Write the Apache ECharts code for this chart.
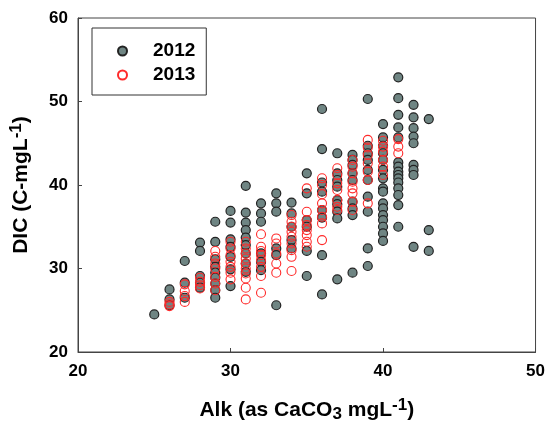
<!DOCTYPE html>
<html>
<head>
<meta charset="utf-8">
<script src="https://cdn.jsdelivr.net/npm/echarts@6/dist/echarts.min.js"></script>
<style>
html,body{margin:0;padding:0;background:#fff;}
#c{width:548px;height:428px;}
</style>
</head>
<body>
<div id="c"></div>
<script>
// Alkalinity levels (x) and DIC readings at each level
const alk2012 = [25,26,27,28,29,30,31,32,33,34,35,36,37,38,39,40,41,42,43];
const dic2012 = [
  [24.5],
  [27.5,26.3,25.6],
  [30.9,28.3,26.5],
  [33.1,32.1,29.1,28.3,27.7],
  [35.6,33.2,31.1,30.2,29.5,28.9,28.2,27.4,26.5],
  [36.9,35.5,33.5,32.6,31.4,29.9,27.9],
  [39.9,36.7,35.5,34.6,33.7,32.8,31.8,30.6,29.6],
  [37.8,36.6,35.6,31.8,30.8,29.8],
  [39.0,37.8,36.8,32.4,31.6,25.6],
  [37.9,36.6,35.0,33.4,32.4],
  [41.4,39.0,35.8,35.0,32.1,29.1],
  [49.1,44.3,40.3,39.2,37.0,36.1,31.6,26.9],
  [43.8,41.4,40.6,39.8,38.2,37.7,36.8,36.0,28.7],
  [43.6,43.0,42.4,41.4,40.6,38.0,37.2,36.4,29.5],
  [50.3,44.7,43.8,43.0,41.8,40.6,38.6,36.8,32.4,30.3],
  [47.3,45.7,44.7,43.8,43.0,41.8,40.8,39.6,39.2,37.8,37.2,36.4,35.8,35.0,34.2,33.3],
  [52.9,50.4,48.4,46.9,45.7,42.7,42.2,41.6,41.2,40.8,40.3,39.6,38.8,37.6,35.0],
  [49.6,48.1,46.8,45.8,45.0,42.4,41.8,41.2,32.6],
  [47.9,34.6,32.1]
];
const alk2013 = [26,27,28,29,30,31,32,33,34,35,36,37,38,39,40,41];
const dic2013 = [
  [26.0,25.7,25.5],
  [28.1,27.3,26.7,26.0],
  [28.9,28.4,28.0,27.6],
  [32.1,31.4,30.6,30.0,29.0,28.2,27.4],
  [33.2,32.4,31.6,30.8,30.2,29.5,28.7],
  [33.2,32.4,31.8,31.2,30.6,30.0,29.4,28.8,27.7,26.3],
  [34.1,32.6,32.1,31.6,31.0,30.2,29.1,27.1],
  [33.6,33.0,31.8,30.6,29.5],
  [36.4,35.6,35.0,34.4,33.8,33.0,32.2,31.4,29.7],
  [39.6,36.8,35.8,35.2,34.6,34.0,33.2,32.6],
  [40.8,40.0,38.9,37.8,37.0,36.2,35.4,33.4],
  [42.0,41.2,40.2,39.4,38.2,37.4,37.0],
  [43.0,42.2,41.4,40.4,39.6,39.0,38.0,37.0],
  [45.4,44.5,43.6,42.6,41.6,40.6,37.8],
  [45.3,44.6,44.0,43.0,42.2,41.2],
  [45.5,44.6,43.8]
];
const seriesNames = ['2012','2013'];
const xTicks = [20,30,40,50];
const yTicks = [20,30,40,50,60];

function pairs(xs, ys){
  const out = [];
  xs.forEach((x,i)=>ys[i].forEach(y=>out.push([x,y])));
  return out;
}

const FONT = '"Liberation Sans", Arial, sans-serif';
const chart = echarts.init(document.getElementById('c'), null, {renderer:'canvas'});
chart.setOption({
  animation:false,
  backgroundColor:'#fff',
  grid:{left:77,right:9,top:18,bottom:76,show:true,borderColor:'#444',borderWidth:1,backgroundColor:'transparent'},
  legend:{
    orient:'vertical', left:92, top:28,
    data:seriesNames,
    itemWidth:9, itemHeight:9, itemGap:4,
    borderColor:'#333', borderWidth:1, borderRadius:0,
    padding:[13,11,10,25],
    textStyle:{fontFamily:FONT,fontWeight:'bold',fontSize:19,color:'#000',lineHeight:20,padding:[0,0,0,21]}
  },
  xAxis:{
    type:'value', min:xTicks[0], max:xTicks[xTicks.length-1], interval:10,
    splitLine:{show:false},
    axisLine:{show:true,lineStyle:{color:'#444'}},
    axisTick:{show:true,inside:true,length:4,lineStyle:{color:'#444'}},
    axisLabel:{fontFamily:FONT,fontWeight:'bold',fontSize:17,color:'#000',margin:11},
    name:'{a|Alk (as CaCO}{sub|3}{a| mgL}{sup|-1}{a|)}',
    nameLocation:'middle', nameGap:45,
    nameTextStyle:{
      rich:{
        a:{fontFamily:FONT,fontWeight:'bold',fontSize:21,color:'#000',lineHeight:26},
        sub:{fontFamily:FONT,fontWeight:'bold',fontSize:17,color:'#000',verticalAlign:'bottom',lineHeight:18,padding:[9,0,0,0]},
        sup:{fontFamily:FONT,fontWeight:'bold',fontSize:17,color:'#000',verticalAlign:'top',lineHeight:18,padding:[0,0,8,0]}
      }
    }
  },
  yAxis:{
    type:'value', min:yTicks[0], max:yTicks[yTicks.length-1], interval:10,
    splitLine:{show:false},
    axisLine:{show:true,lineStyle:{color:'#444'}},
    axisTick:{show:true,inside:true,length:4,lineStyle:{color:'#444'}},
    axisLabel:{fontFamily:FONT,fontWeight:'bold',fontSize:17,color:'#000',margin:10},
    name:'{a|DIC (C-mgL}{sup|-1}{a|)}',
    nameLocation:'middle', nameGap:44,
    nameTextStyle:{
      rich:{
        a:{fontFamily:FONT,fontWeight:'bold',fontSize:21,color:'#000',lineHeight:26},
        sup:{fontFamily:FONT,fontWeight:'bold',fontSize:17,color:'#000',verticalAlign:'top',lineHeight:18,padding:[0,0,8,0]}
      }
    }
  },
  series:[
    {
      name:seriesNames[0], type:'scatter', symbol:'circle', symbolSize:9,
      data:pairs(alk2012,dic2012),
      itemStyle:{color:'#6f8583',borderColor:'#222',borderWidth:1.2,opacity:1}
    },
    {
      name:seriesNames[1], type:'scatter', symbol:'circle', symbolSize:9,
      data:pairs(alk2013,dic2013),
      itemStyle:{color:'rgba(255,255,255,0)',borderColor:'#ff2a2a',borderWidth:1.1,opacity:1}
    }
  ]
});
</script>
</body>
</html>
